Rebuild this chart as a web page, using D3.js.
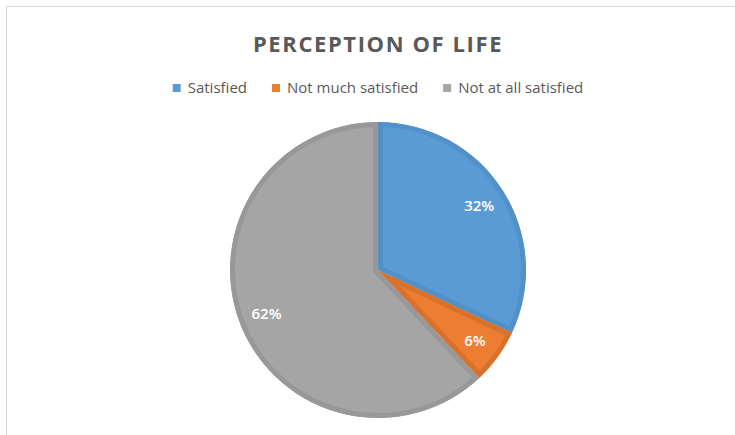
<!DOCTYPE html>
<html lang="en">
<head>
  <meta charset="UTF-8">
  <title>Perception of Life</title>
  <script src="https://d3js.org/d3.v7.min.js"></script>
  <style>
    body {
      margin: 0;
      background: #fff;
      font-family: "Open Sans", "Noto Sans", sans-serif;
    }
  </style>
</head>
<body>
  <div id="chart"></div>

  <script>
    const categories = ["Satisfied", "Not much satisfied", "Not at all satisfied"];
    const values = [32, 6, 62];
    const fills = ["#5b9bd5", "#ed7d31", "#a5a5a5"];
    const borders = ["#5290c8", "#d8712b", "#989898"];

    const width = 735, height = 435;
    const cx = 378, cy = 270, radius = 148;

    const svg = d3.select("#chart")
      .append("svg")
      .attr("width", width)
      .attr("height", height);

    // chart area frame
    svg.append("rect")
      .attr("x", 6.5).attr("y", 6.5)
      .attr("width", width + 10).attr("height", height + 10)
      .attr("fill", "none")
      .attr("stroke", "#d9d9d9");

    svg.append("text")
      .attr("x", cx).attr("y", 52)
      .attr("text-anchor", "middle")
      .style("font-size", "22px")
      .style("font-weight", "bold")
      .style("letter-spacing", "1.6px")
      .style("fill", "#595959")
      .text("PERCEPTION OF LIFE");

    // legend
    const legend = svg.append("g");
    let lx = 0;
    categories.forEach((c, i) => {
      const g = legend.append("g").attr("transform", `translate(${lx},0)`);
      g.append("rect").attr("x", 0).attr("y", -4).attr("width", 8).attr("height", 8)
        .attr("fill", fills[i]);
      const t = g.append("text").attr("x", 15).attr("dy", "0.35em")
        .style("font-size", "15px").style("fill", "#595959").text(c);
      lx += 15 + t.node().getComputedTextLength() + 25;
    });
    const lw = lx - 25;
    legend.attr("transform", `translate(${cx - lw / 2},88)`);

    const pie = d3.pie().sort(null).value(d => d)(values);
    const arc = d3.arc().innerRadius(0).outerRadius(radius);
    const labelArc = d3.arc().innerRadius(radius * 0.81).outerRadius(radius * 0.81);

    const g = svg.append("g").attr("transform", `translate(${cx},${cy})`);
    const defs = svg.append("defs");

    pie.forEach((d, i) => {
      defs.append("clipPath").attr("id", "clip" + i)
        .append("path").attr("d", arc(d));
      g.append("path")
        .attr("d", arc(d))
        .attr("fill", fills[i])
        .attr("stroke", borders[i])
        .attr("stroke-width", 10)
        .attr("stroke-linejoin", "miter")
        .attr("clip-path", `url(#clip${i})`);
    });

    g.selectAll("text.lbl")
      .data(pie)
      .enter()
      .append("text")
      .attr("class", "lbl")
      .attr("transform", d => `translate(${labelArc.centroid(d)})`)
      .attr("text-anchor", "middle")
      .attr("dy", "0.35em")
      .style("font-size", "15px")
      .style("font-weight", "600")
      .style("fill", "#fff")
      .text(d => d.data + "%");
  </script>
</body>
</html>
